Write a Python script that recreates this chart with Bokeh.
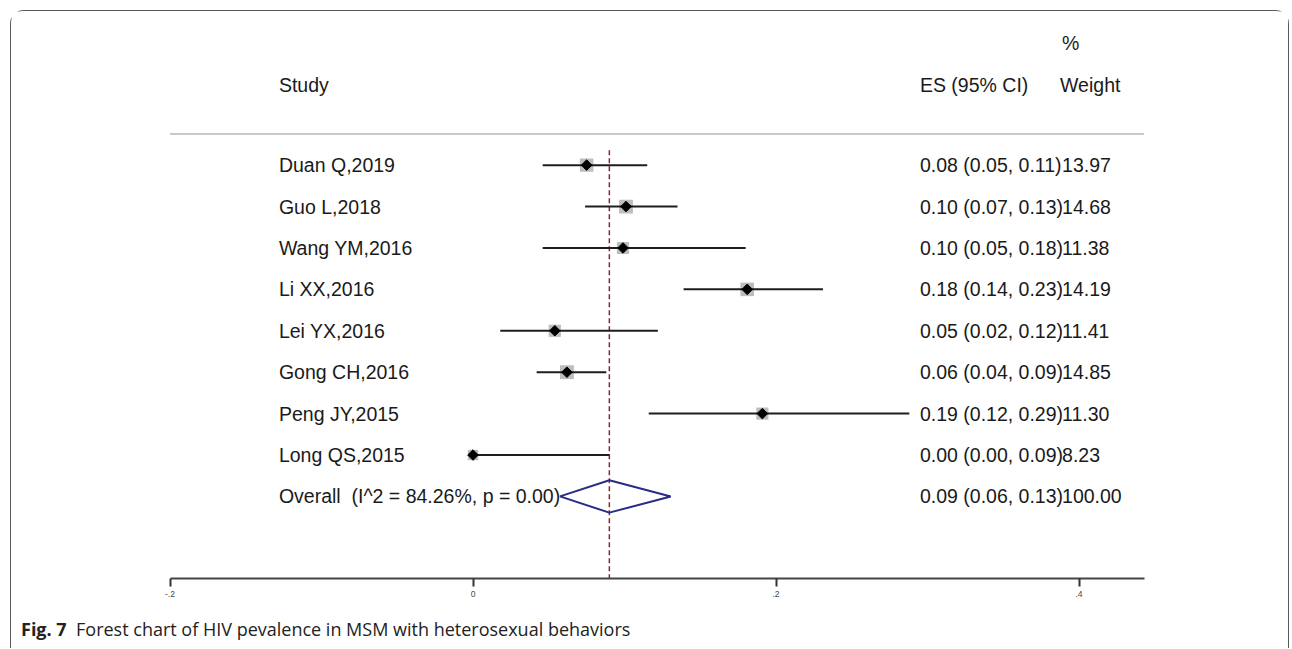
import numpy as np
from bokeh.plotting import figure
from bokeh.layouts import column
from bokeh.models import Range1d, FixedTicker, ColumnDataSource, LinearAxis, Div
from bokeh.core.properties import value
from bokeh.embed import file_html
from bokeh.resources import INLINE

# ---- data ----
studies = ["Duan Q,2019", "Guo L,2018", "Wang YM,2016", "Li XX,2016", "Lei YX,2016",
           "Gong CH,2016", "Peng JY,2015", "Long QS,2015"]
est = [0.075, 0.101, 0.099, 0.181, 0.054, 0.062, 0.191, 0.000]
lo = [0.046, 0.074, 0.046, 0.139, 0.018, 0.042, 0.116, 0.000]
hi = [0.115, 0.135, 0.180, 0.231, 0.122, 0.088, 0.288, 0.090]
weights = [13.97, 14.68, 11.38, 14.19, 11.41, 14.85, 11.30, 8.23]
es_text = ["0.08 (0.05, 0.11)", "0.10 (0.07, 0.13)", "0.10 (0.05, 0.18)", "0.18 (0.14, 0.23)",
           "0.05 (0.02, 0.12)", "0.06 (0.04, 0.09)", "0.19 (0.12, 0.29)", "0.00 (0.00, 0.09)"]
weight_text = ["13.97", "14.68", "11.38", "14.19", "11.41", "14.85", "11.30", "8.23"]

overall_label = "Overall\u00a0 (I^2 = 84.26%, p = 0.00)"
overall_est, overall_lo, overall_hi = 0.090, 0.0574, 0.1305
overall_es_text = "0.09 (0.06, 0.13)"
overall_weight_text = "100.00"

ticks = [-0.2, 0.0, 0.2, 0.4]
tick_labels = {-0.2: "-.2", 0.0: "0", 0.2: ".2", 0.4: ".4"}

caption_bold = "Fig. 7"
caption_text = "Forest chart of HIV pevalence in MSM with heterosexual behaviors"

# ---- layout ----
rows = [i + 1 for i in range(len(studies))]
overall_row = len(studies) + 1

W = 1277
X_LEFT, X_RIGHT = -0.30462, 0.53828
Y_BOTTOM, Y_TOP = 10.982, -2.710

p = figure(width=W, height=597,
           x_range=Range1d(X_LEFT, X_RIGHT), y_range=Range1d(Y_BOTTOM, Y_TOP),
           output_backend="svg", toolbar_location=None,
           x_axis_location=None, y_axis_location=None,
           min_border_left=0, min_border_right=0, min_border_top=0, min_border_bottom=30)
p.outline_line_color = None
p.grid.visible = False
p.background_fill_color = "white"
p.border_fill_color = "white"

xaxis = LinearAxis(ticker=FixedTicker(ticks=ticks), bounds=(-0.2, 0.443),
                   major_label_overrides=tick_labels)
xaxis.axis_line_color = "#444444"
xaxis.axis_line_width = 2
xaxis.major_tick_line_color = "#333333"
xaxis.major_tick_line_width = 2
xaxis.major_tick_out = 8
xaxis.major_tick_in = 0
xaxis.minor_tick_line_color = None
xaxis.major_label_text_font_size = "8.5px"
xaxis.major_label_text_color = "#3a4a5a"
xaxis.major_label_text_font = "Liberation Sans"
xaxis.major_label_standoff = 4
p.add_layout(xaxis, "below")

FONT = value("Liberation Sans")
FS = value("19.5px")
TXT_COL = "#1a1a1a"

x_study = -0.1281
x_es = 0.2950
x_w = 0.3888

hdr = ColumnDataSource(dict(x=[x_study, x_es, x_w - 0.0013, x_w],
                            y=[-0.93, -0.93, -0.93, -1.96],
                            t=["Study", "ES (95% CI)", "Weight", "%"]))
p.text(x="x", y="y", text="t", source=hdr, text_font=FONT, text_font_size=FS,
       text_color=TXT_COL, text_baseline="middle", text_align="left")

p.segment(x0=[-0.2], x1=[0.443], y0=[0.25], y1=[0.25], line_color="#c8c8c8", line_width=2)

p.segment(x0=[overall_est], x1=[overall_est], y0=[0.64], y1=[Y_BOTTOM],
          line_color="#8e2434", line_width=1.5, line_dash="5 3")

src = ColumnDataSource(dict(row=rows, est=est, lo=lo, hi=hi,
                            size=[3.6 * np.sqrt(w) for w in weights],
                            study=studies, es=es_text, w=weight_text))

p.scatter(x="est", y="row", size="size", marker="square", source=src,
          fill_color="#bdbdbd", line_color=None)
p.segment(x0="lo", x1="hi", y0="row", y1="row", source=src, line_color="#1e1e1e", line_width=2)
p.scatter(x="est", y="row", size=7.5, marker="square", angle=np.pi / 4, source=src,
          fill_color="black", line_color="black")

p.text(x=x_study, y="row", text="study", source=src, text_font=FONT, text_font_size=FS,
       text_color=TXT_COL, text_baseline="middle")
p.text(x=x_es, y="row", text="es", source=src, text_font=FONT, text_font_size=FS,
       text_color=TXT_COL, text_baseline="middle")
p.text(x=x_w, y="row", text="w", source=src, text_font=FONT, text_font_size=FS,
       text_color=TXT_COL, text_baseline="middle")

h = 0.392
p.patch(x=[overall_lo, overall_est, overall_hi, overall_est, overall_lo],
        y=[overall_row, overall_row - h, overall_row, overall_row + h, overall_row],
        fill_color=None, line_color="#2b2b85", line_width=2)
ov = ColumnDataSource(dict(x=[x_study, x_es, x_w], y=[overall_row] * 3,
                           t=[overall_label, overall_es_text, overall_weight_text]))
p.text(x="x", y="y", text="t", source=ov, text_font=FONT, text_font_size=FS,
       text_color=TXT_COL, text_baseline="middle")

cap = Div(text=f"<b>{caption_bold}</b>&nbsp;&nbsp;{caption_text}",
          width=W, height=40, margin=(0, 0, 0, 0),
          styles={"font-family": "'Open Sans', sans-serif", "font-size": "18px",
                  "color": "#222222", "padding-top": "9px", "padding-left": "10px",
                  "box-sizing": "border-box", "white-space": "nowrap"})

layout = column(p, cap, spacing=0,
                styles={"margin-top": "10px", "margin-left": "10px",
                        "border": "1.5px solid #5a5a5a", "border-bottom": "none",
                        "border-radius": "14px 14px 0 0", "background": "white"})

open("out.html", "w").write(file_html(layout, INLINE))
